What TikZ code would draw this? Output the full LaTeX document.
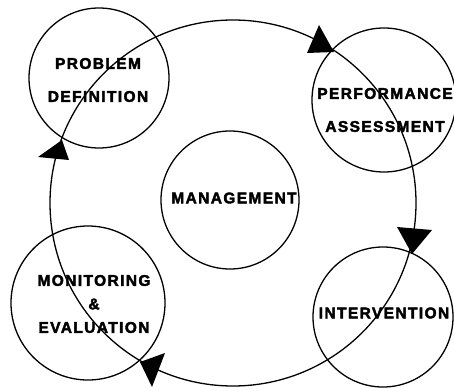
\documentclass[tikz,border=0pt]{standalone}
\usepackage{fontspec}
\newfontfamily\labelfont[LetterSpace=9,FakeBold=2.5]{Liberation Sans}
\begin{document}
\begin{tikzpicture}[x=1pt,y=-1pt,
  ring/.style={draw, circle, line width=1.3pt, inner sep=0pt},
  tag/.style={align=center, inner sep=0pt,
    font={\labelfont\bfseries\fontsize{15.5}{33}\selectfont}},
  head/.style={fill=black, line join=round}]
  \useasboundingbox (0,0) rectangle (454,390);
  \fill[white] (0,0) rectangle (454,390);

  % the cycle running clockwise through the four stages
  \coordinate (hub) at (233,203);
  \draw[line width=1.3pt] (hub) circle[radius=183pt];

  % stage circles
  \node[ring, minimum size=140pt] (pd) at (99,78) {};
  \node[ring, minimum size=144pt] (pa) at (384,100) {};
  \node[ring, minimum size=138pt] (mg) at (230,200) {};
  \node[ring, minimum size=154pt] (me) at (88,303) {};
  \node[ring, minimum size=140pt] (iv) at (383,317) {};

  % stage names
  \node[tag] (pdt) at (98,80) {PROBLEM\\DEFINITION};
  \node[tag] (pat) at (385,110) {PERFORMANCE\\ASSESSMENT};
  \node[tag] (mgt) at (234,198) {MANAGEMENT};
  \node[tag, font={\labelfont\bfseries\fontsize{15.5}{23.5}\selectfont}] (met) at (94,304) {MONITORING\\\&\\EVALUATION};
  \node[tag] (ivt) at (384,313) {INTERVENTION};

  % arrowheads where the cycle enters each stage
  \fill[head] (319,25) -- (307,53) -- (334,52) -- cycle;
  \fill[head] (397,227) -- (432,230) -- (412,254) -- cycle;
  \fill[head] (165,353) -- (140,362) -- (152,387) -- cycle;
  \fill[head] (62,140) -- (38,157) -- (69,160) -- cycle;
\end{tikzpicture}
\end{document}
